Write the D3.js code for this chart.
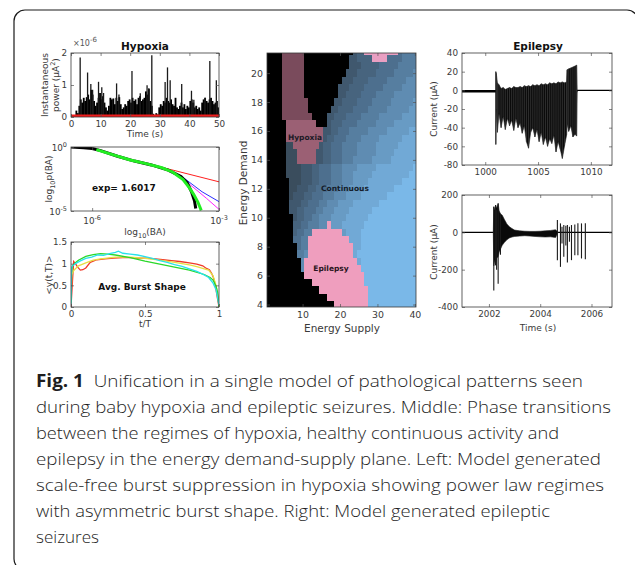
<!DOCTYPE html>
<html><head><meta charset="utf-8">
<script src="https://cdn.jsdelivr.net/npm/d3@7"></script>
<style>body{margin:0;background:#fff}svg{display:block}</style>
</head><body>
<svg id="c" width="635" height="565"></svg>
<script>
// ================= DATA =================
// Panel 1: Hypoxia instantaneous power (x1e-6), dense burst heights per 0.5 s bin
const powerBinWidth = 0.5;
const powerBurstHeights = [0,0,0.02,0.2,0.12,0.35,0.55,0.45,0.6,0.5,
  0.62,0.7,0.55,0.85,0.7,0.5,0.35,0.45,0.6,0.75,
  0.55,0.65,0.45,0.3,0.2,0.35,0.6,0.55,0.58,0.4,
  0.6,0.5,0.62,0.4,0.25,0.3,0.4,0.35,0.5,0.55,
  0.45,0.6,0.5,0.55,0.4,0.6,0.65,0.5,0.55,0.6,
  0.8,0.7,0.88,0.5,0.35,0.1,0.05,0.12,0.08,0.3,
  0.4,0.35,0.5,0.45,0.6,0.5,0.45,0.55,0.4,0.35,
  0.6,0.3,0.25,0.35,0.45,0.3,0.4,0.25,0.35,0.3,
  0.5,0.55,0.45,0.3,0.35,0.25,0.3,0.2,0.45,0.55,
  0.6,0.5,0.45,0.55,0.6,0.5,0.4,0.45,0.5,0.3];
const spikeTimes   = [3.1,5.6,6.7,7.3,9.3,10.4,11.0,15.4,16.2,20.6,23.4,25.7,26.3,27.3,31.8,32.6,33.5,37.4,40.7,41.5,45.3,46.9,49.1];
const spikeHeights = [1.86,1.39,1.03,0.85,1.10,0.93,0.75,1.05,0.70,1.44,0.74,0.99,0.90,1.93,1.09,1.55,1.15,1.03,0.82,0.54,0.60,1.75,1.15];
const powerXTicks = [0,10,20,30,40,50];
const powerYTicks = [0,1,2];

// Panel 2: log-log distribution (log10 values)
const blackLogX = [-6.5,-6.2,-6.0,-5.8,-5.4,-5.0,-4.6,-4.2,-3.9,-3.75,-3.65,-3.58,-3.55];
const blackLogY = [0.0,-0.05,-0.12,-0.28,-0.72,-1.1,-1.4,-1.8,-2.3,-2.8,-3.5,-4.2,-4.8];
const greenLogX = [-5.9,-5.5,-5.1,-4.7,-4.35,-4.1,-3.85,-3.7,-3.6,-3.5,-3.42];
const greenLogY = [-0.2,-0.62,-1.02,-1.32,-1.62,-1.95,-2.55,-3.2,-3.7,-4.3,-4.95];
const redLogX = [-4.6,-3.0];
const redLogY = [-1.38,-2.72];
const blueLogX = [-4.5,-4.2,-3.8,-3.4,-3.0];
const blueLogY = [-1.48,-1.78,-2.5,-3.5,-4.27];
const magentaLogX = [-4.4,-4.1,-3.7,-3.3,-3.0];
const magentaLogY = [-1.58,-1.92,-2.9,-4.0,-4.87];

// Panel 3: average burst shapes
const redShapeT = [0,0.01,0.018,0.03,0.045,0.063,0.08,0.1,0.13,0.175,0.23,0.29,0.35,0.4,0.45,0.51,0.57,0.62,0.68,0.735,0.8,0.85,0.89,0.915,0.935,0.95,0.96,0.97,0.98,0.99,1.0];
const redShapeV = [0,0.6,1.05,1.0,0.92,0.85,0.86,0.9,1.03,1.09,1.11,1.13,1.14,1.14,1.13,1.13,1.11,1.09,1.07,1.05,1.02,0.99,0.95,0.89,0.86,0.78,0.7,0.58,0.4,0.19,0];
const yellowShapeT = [0,0.005,0.02,0.05,0.1,0.15,0.2,0.3,0.4,0.45,0.5,0.6,0.7,0.75,0.8,0.85,0.9,0.93,0.96,0.98,0.995,1];
const yellowShapeV = [0.1,0.75,0.85,0.95,1.02,1.08,1.11,1.15,1.15,1.14,1.12,1.08,1.03,1.0,0.97,0.93,0.88,0.85,0.72,0.5,0.2,0.05];
const greenShapeT = [0,0.003,0.01,0.03,0.05,0.1,0.15,0.2,0.25,0.3,0.4,0.5,0.6,0.7,0.8,0.9,0.94,0.96,0.98,0.99,1];
const greenShapeV = [0.1,0.8,0.95,1.02,1.08,1.17,1.21,1.23,1.22,1.2,1.14,1.06,0.99,0.92,0.85,0.75,0.68,0.62,0.48,0.35,0];
const cyanShapeT = [0,0.004,0.01,0.03,0.06,0.1,0.14,0.18,0.22,0.26,0.3,0.32,0.35,0.4,0.45,0.5,0.55,0.6,0.65,0.7,0.75,0.8,0.85,0.9,0.93,0.96,0.98,1];
const cyanShapeV = [0.05,0.9,0.95,1.0,1.06,1.12,1.15,1.2,1.19,1.23,1.26,1.29,1.24,1.22,1.2,1.16,1.12,1.07,1.03,0.98,0.94,0.88,0.82,0.74,0.68,0.55,0.4,0.05];
const shapeXTicks = [0,0.5,1];
const shapeYTicks = [0,0.5,1,1.5];

// Panel 4: phase map (rows = energy demand, columns = energy supply 1..40)
// K black, h/H hypoxia, E/P epilepsy, digits = continuous (0 dark .. 9 light)
const demandRows = [21.5,21,20.5,20,19.5,19,18.5,18,17.5,17,16.5,16,15.5,15,14.5,14,13.5,13,12.5,12,11.5,11,10.5,10,9.5,9,8.5,8,7.5,7,6.5,6,5.5,5,4.5,4];
const supplyCols = [1,2,3,4,5,6,7,8,9,10,11,12,13,14,15,16,17,18,19,20,21,22,23,24,25,26,27,28,29,30,31,32,33,34,35,36,37,38,39,40];
const phaseRows = [
 "KKKK"+"hhhhhh"+"KKKKKKKKKKKKK"+"233"+"PPPPPPPPP"+"45555",
 "KKKK"+"hhhhhh"+"KKKKKKKKKKKK"+"223333"+"PPPP"+"44445555",
 "KKKK"+"hhhhhh"+"KKKKKKKKKKKK"+"222333334444455555",
 "KKKK"+"hhhhhh"+"KKKKKKKKKKK"+"2223333344444555556",
 "KKKK"+"hhhhhh"+"KKKKKKKKKK"+"22233334444455555666",
 "KKKK"+"hhhhhh"+"KKKKKKKKK"+"222333344444555556666",
 "KKKK"+"hhhhhh"+"KKKKKKKKK"+"223333444455555666666",
 "KKKK"+"hhhhhhh"+"KKKKKKK"+"2233334444555556666667",
 "KKKK"+"hhhhhhh"+"KKKKKK"+"22333344445555566666677",
 "KKKK"+"hhhhhhhh"+"KKKK"+"223334444555556666667777",
 "KKKKK"+"HHHHHHHH"+"KKK"+"233344445555566666777777",
 "KKKKK"+"HHHHHHHHHH"+"2233444555556666677777788",
 "KKKKK"+"HHHHHHHHHH"+"2334445555666667777778888",
 "KKKKK"+"11"+"HHHHHHH"+"23344455556666677777788888",
 "KKKKK"+"111"+"HHHHH"+"223344455556666677777888888",
 "KKKKK"+"111"+"HHHHH"+"223344455566666777778888888",
 "KKKKK"+"11112223344455566667777788888888889",
 "KKKKK"+"11112223344455566677777888888888899",
 "KKKKKK"+"1112223344455566677778888888889999",
 "KKKKKK"+"1122233444555666777788888888999999",
 "KKKKKK"+"1222334445556667777888888899999999",
 "KKKKKK"+"2223344455666777788888889999999999",
 "KKKKKK"+"2233444556667777888888999999999999",
 "KKKKKKK"+"233445566677778888889999999999999",
 "KKKKKKK"+"334455566"+"E"+"77788888899999999999999",
 "KKKKKKK"+"34455"+"EEEEEEEE"+"78888999999999999999",
 "KKKKKKK"+"4455"+"EEEEEEEEEEE"+"888999999999999999",
 "KKKKKKKK"+"455"+"EEEEEEEEEEEE"+"88999999999999999",
 "KKKKKKKK"+"556"+"EEEEEEEEEEEE"+"89999999999999999",
 "KKKKKKKKK"+"6"+"EEEEEEEEEEEEEE"+"8999999999999999",
 "KKKKKKKKK"+"6"+"EEEEEEEEEEEEEEE"+"999999999999999",
 "KKKKKKKKKK"+"EEEEEEEEEEEEEEEE"+"99999999999999",
 "KKKKKKKKKKKK"+"EEEEEEEEEEEEEE"+"99999999999999",
 "KKKKKKKKKKKKKK"+"EEEEEEEEEEEEE"+"9999999999999",
 "KKKKKKKKKKKKKKKK"+"EEEEEEEEEEE"+"9999999999999",
 "KKKKKKKKKKKKKKKKKK"+"EEEEEEEEE"+"9999999999999"
];
const supplyTicks = [10,20,30,40];
const demandTicks = [4,6,8,10,12,14,16,18,20];

// Panel 5: epileptic seizure current (uA)
const seizureT = [1001.0,1001.05,1001.15,1001.3,1001.5,1001.7,1001.9,1002.1,1002.3,1002.5,1002.7,1002.9,1003.1,1003.3,1003.5,1003.7,1003.9,1004.1,1004.3,1004.5,1004.7,1004.9,1005.1,1005.3,1005.5,1005.7,1005.9,1006.1,1006.3,1006.5,1006.7,1006.9,1007.1,1007.3,1007.5,1007.7,1007.75,1007.9,1008.1,1008.3,1008.5,1008.65,1008.7];
const seizureUpper = [20,18,8,6,2,3,1,2,3,2,4,3,3,4,3,5,4,5,4,6,5,6,5,7,6,7,6,8,7,8,7,9,8,9,8,9,22,23,24,25,26,27,0];
const seizureLower = [-58,-20,-45,-25,-40,-28,-42,-30,-38,-32,-43,-30,-40,-35,-46,-38,-55,-62,-45,-40,-50,-42,-55,-45,-58,-50,-60,-52,-57,-48,-66,-55,-63,-73,-60,-48,-36,-44,-38,-50,-47,-49,-2];
const preT = [997.8,1001.0];  const preV = [-1,-1];
const postT = [1008.7,1012.2]; const postV = [0,0];
const currentYTicks1 = [-80,-60,-40,-20,0,20,40];
const timeTicks1 = [1000,1005,1010];

// Panel 6: second seizure current (uA)
const burstT = [2002.17,2002.19,2002.22,2002.26,2002.3,2002.36,2002.4,2002.45,2002.52,2002.6,2002.7,2002.8,2002.9,2003.0,2003.2,2003.4,2003.6,2003.8,2004.0,2004.2,2004.4,2004.6,2004.7];
const burstUpper = [0,137,120,146,130,155,115,100,92,70,45,30,20,12,8,6,5,5,6,8,10,14,0];
const burstLower = [0,-180,-150,-176,-140,-130,-105,-90,-69,-55,-40,-30,-25,-22,-20,-18,-20,-22,-24,-25,-24,-28,0];
const bigSpikeT = [2002.19,2002.26,2002.3,2002.36,2002.45,2004.67,2004.79,2004.85,2004.92,2005.0,2005.06,2005.14,2005.22,2005.35,2005.47,2005.61,2005.76];
const bigSpikeTop = [137,146,120,155,100,66,48,30,39,35,39,30,39,42,48,48,48];
const bigSpikeBot = [-311,-176,-200,-275,-120,-149,-185,-60,-131,-70,-162,-50,-149,-123,-123,-140,-144];
const currentYTicks2 = [-400,-200,0,200];
const timeTicks2 = [2002,2004,2006];

// Caption
const captionLines = [
 "Unification in a single model of pathological patterns seen",
 "during baby hypoxia and epileptic seizures. Middle: Phase transitions",
 "between the regimes of hypoxia, healthy continuous activity and",
 "epilepsy in the energy demand-supply plane. Left: Model generated",
 "scale-free burst suppression in hypoxia showing power law regimes",
 "with asymmetric burst shape. Right: Model generated epileptic",
 "seizures"];
const captionEnds = [583,611,559,601,604,550,99];

// ================= DRAWING =================
const svg = d3.select('#c');
const FONT = "'DejaVu Sans', sans-serif";
const TXT = '#3a3a3a';
const defs = svg.append('defs');

svg.append('rect').attr('x',14).attr('y',10).attr('width',624).attr('height',560).attr('rx',11)
  .attr('fill','none').attr('stroke','#1a1a1a').attr('stroke-width',1.2);

let clipId = 0;
function panel(x, y, w, h) {
  const g = svg.append('g').attr('transform', `translate(${x},${y})`);
  const id = 'clip' + (clipId++);
  defs.append('clipPath').attr('id', id).append('rect').attr('width', w).attr('height', h);
  const plot = g.append('g').attr('clip-path', `url(#${id})`);
  return {g, plot, w, h};
}
const plain = d => String(d);
function axes(p, xs, ys, xt, yt, xf, yf, fs) {
  const {g, w, h} = p;
  const a = g.append('g');
  a.append('g').attr('transform', `translate(0,${h})`)
    .call(d3.axisBottom(xs).tickValues(xt).tickSize(-3).tickPadding(4).tickFormat(xf));
  a.append('g').call(d3.axisLeft(ys).tickValues(yt).tickSize(-3).tickPadding(4).tickFormat(yf));
  a.append('g').call(d3.axisTop(xs).tickValues(xt).tickSize(-3).tickFormat(''));
  a.append('g').attr('transform', `translate(${w},0)`).call(d3.axisRight(ys).tickValues(yt).tickSize(-3).tickFormat(''));
  a.selectAll('.domain').remove();
  a.selectAll('.tick line').attr('stroke', '#555').attr('stroke-width', 0.7);
  a.selectAll('.tick text').attr('fill', TXT).style('font-family', FONT).style('font-size', (fs || 8.8) + 'px');
  a.selectAll('.tick text').filter(function(){ return this.textContent === ''; }).remove();
  g.append('rect').attr('width', w).attr('height', h).attr('fill', 'none')
    .attr('stroke', '#3a3a3a').attr('stroke-width', 0.8);
  return a;
}
function label(x, y, parts, opts = {}) {
  const t = svg.append('text').attr('x', x).attr('y', y)
    .attr('text-anchor', opts.anchor || 'middle')
    .style('font-family', FONT).style('font-size', (opts.size || 9) + 'px')
    .attr('fill', opts.fill || TXT).style('font-weight', opts.bold ? 'bold' : 'normal');
  if (opts.rotate) t.attr('transform', `rotate(-90,${x},${y})`);
  let off = 0;
  parts.forEach(pt => {
    if (typeof pt === 'string') {
      const s = t.append('tspan').text(pt);
      if (off) { s.attr('dy', -off); off = 0; }
    } else {
      t.append('tspan').attr('dy', pt.dy - off).style('font-size', pt.size + 'px').text(pt.t);
      off = pt.dy;
    }
  });
  return t;
}

// ---------- Panel 1 ----------
{
  const p = panel(71, 53, 148, 64);
  const xs = d3.scaleLinear().domain([0, 50]).range([0, p.w]);
  const ys = d3.scaleLinear().domain([0, 2]).range([p.h, 0]);
  p.plot.selectAll('rect.b').data(powerBurstHeights).join('rect')
    .attr('x', (d, i) => xs(i * powerBinWidth))
    .attr('width', xs(powerBinWidth) - xs(0) + 0.35)
    .attr('y', d => ys(d)).attr('height', d => ys(0) - ys(d)).attr('fill', '#000');
  p.plot.selectAll('line.s').data(spikeTimes).join('line')
    .attr('x1', d => xs(d)).attr('x2', d => xs(d))
    .attr('y1', ys(0)).attr('y2', (d, i) => ys(spikeHeights[i]))
    .attr('stroke', '#1a1a1a').attr('stroke-width', 1.3);
  p.plot.append('line').attr('x1', 0).attr('x2', p.w).attr('y1', ys(0) - 1).attr('y2', ys(0) - 1)
    .attr('stroke', '#ee1c1c').attr('stroke-width', 3);
  axes(p, xs, ys, powerXTicks, powerYTicks, plain, plain);
  label(145, 50, ['Hypoxia'], {bold: true, size: 10.5, fill: '#111'});
  label(73, 46, ['\u00d710', {t: '-6', dy: -4, size: 7}], {anchor: 'start', size: 8, fill: '#555'});
  label(48, 85, ['Instantaneous'], {rotate: true, size: 9});
  label(59, 85, ['power (\u03bcA', {t: '2', dy: -4, size: 6.5}, ')'], {rotate: true, size: 9});
  label(145, 137, ['Time (s)'], {size: 9});
}

// ---------- Panel 2 ----------
{
  const p = panel(71, 147, 148, 64);
  const xs = d3.scaleLog().domain([Math.pow(10, -6.5), 1e-3]).range([0, p.w]);
  const ys = d3.scaleLog().domain([1e-5, 1]).range([p.h, 0]);
  const line = d3.line().x(d => xs(Math.pow(10, d[0]))).y(d => ys(Math.pow(10, d[1])));
  const ser = [
    [redLogX, redLogY, '#ff2020', 1],
    [blueLogX, blueLogY, '#2b2bff', 1],
    [magentaLogX, magentaLogY, '#ff22ff', 1],
    [blackLogX, blackLogY, '#000', 3],
    [greenLogX, greenLogY, '#22ee22', 3]];
  ser.forEach(([X, Y, c, w]) => {
    p.plot.append('path').attr('d', line(X.map((x, i) => [x, Y[i]])))
      .attr('fill', 'none').attr('stroke', c).attr('stroke-width', w);
  });
  axes(p, xs, ys, [1e-6, 1e-3], [1e-5, 1], () => '', () => '');
  label(67, 151, ['10', {t: '0', dy: -4, size: 6.5}], {anchor: 'end', size: 8.8});
  label(67, 215, ['10', {t: '-5', dy: -4, size: 6.5}], {anchor: 'end', size: 8.8});
  label(71 + xs(1e-6), 224, ['10', {t: '-6', dy: -4, size: 6.5}], {size: 8.8});
  label(71 + xs(1e-3), 224, ['10', {t: '-3', dy: -4, size: 6.5}], {size: 8.8});
  label(145, 235, ['log', {t: '10', dy: 3, size: 6.5}, '(BA)'], {size: 9});
  label(52, 179, ['log', {t: '10', dy: 3, size: 6.5}, 'p(BA)'], {rotate: true, size: 9});
  label(92, 191, ['exp= 1.6017'], {anchor: 'start', bold: true, size: 9, fill: '#111'});
}

// ---------- Panel 3 ----------
{
  const p = panel(71, 242, 148, 65);
  const xs = d3.scaleLinear().domain([0, 1]).range([0, p.w]);
  const ys = d3.scaleLinear().domain([0, 1.5]).range([p.h, 0]);
  const line = d3.line().x(d => xs(d[0])).y(d => ys(d[1]));
  [[redShapeT, redShapeV, '#f03a2a'], [yellowShapeT, yellowShapeV, '#e6e042'],
   [greenShapeT, greenShapeV, '#2ad82a'], [cyanShapeT, cyanShapeV, '#28e2ea']].forEach(([T, V, c]) => {
    p.plot.append('path').attr('d', line(T.map((t, i) => [t, V[i]])))
      .attr('fill', 'none').attr('stroke', c).attr('stroke-width', 1.3);
  });
  axes(p, xs, ys, shapeXTicks, shapeYTicks, plain, plain);
  label(145, 327, ['t/T'], {size: 9});
  label(52, 275, ['<y(t,T)>'], {rotate: true, size: 9});
  label(142, 290, ['Avg. Burst Shape'], {bold: true, size: 9, fill: '#111'});
}

// ---------- Panel 4: phase map ----------
{
  const p = panel(267, 53, 149, 254);
  const xs = d3.scaleLinear().domain([0.5, 40.3]).range([0, p.w]);
  const ys = d3.scaleLinear().domain([3.83, 21.39]).range([p.h, 0]);
  const blue = d3.scaleLinear().domain([0, 4, 9]).range(['#33414d', '#4d6f8e', '#7ab8e8']);
  const cat = {K: '#000000', h: '#7a4b5c', H: '#9b6074', E: '#ef9ebe', P: '#e99fc2'};
  const cells = [];
  phaseRows.forEach((row, r) => {
    supplyCols.forEach((s, c) => {
      const ch = row[c] || '9';
      cells.push({d: demandRows[r], s, color: cat[ch] || blue(+ch)});
    });
  });
  p.plot.selectAll('rect.c').data(cells).join('rect')
    .attr('x', d => xs(d.s - 0.5)).attr('width', d => xs(d.s + 0.5) - xs(d.s - 0.5) + 0.5)
    .attr('y', d => ys(d.d + 0.25)).attr('height', d => ys(d.d - 0.25) - ys(d.d + 0.25) + 0.5)
    .attr('fill', d => d.color).attr('shape-rendering', 'crispEdges');
  axes(p, xs, ys, supplyTicks, demandTicks, plain, plain, 9.4);
  label(305, 140, ['Hypoxia'], {bold: true, size: 7.5, fill: '#1d1a26'});
  label(345, 191, ['Continuous'], {bold: true, size: 7.5, fill: '#141c2a'});
  label(331, 271, ['Epilepsy'], {bold: true, size: 7.5, fill: '#2a1420'});
  label(342, 332, ['Energy Supply'], {size: 10.5});
  label(247, 183, ['Energy Demand'], {rotate: true, size: 10.5});
}

// ---------- Panel 5 ----------
{
  const p = panel(462, 53, 150, 112);
  const xs = d3.scaleLinear().domain([997.8, 1012]).range([0, p.w]);
  const ys = d3.scaleLinear().domain([-80, 40]).range([p.h, 0]);
  const area = d3.area().x(d => xs(d.t)).y0(d => ys(d.lo)).y1(d => ys(d.hi));
  p.plot.append('path').attr('d', area(seizureT.map((t, i) => ({t, lo: seizureLower[i], hi: seizureUpper[i]}))))
    .attr('fill', '#0a0a0a').attr('stroke', '#222').attr('stroke-width', 0.6);
  p.plot.selectAll('line.sz').data(seizureT).join('line')
    .attr('x1', d => xs(d)).attr('x2', d => xs(d))
    .attr('y1', (d, i) => ys(seizureUpper[i])).attr('y2', (d, i) => ys(seizureLower[i]))
    .attr('stroke', '#333').attr('stroke-width', 0.9);
  const ln = d3.line().x(d => xs(d[0])).y(d => ys(d[1]));
  p.plot.append('path').attr('d', ln(preT.map((t, i) => [t, preV[i]]))).attr('stroke', '#000').attr('stroke-width', 2.4).attr('fill', 'none');
  p.plot.append('path').attr('d', ln(postT.map((t, i) => [t, postV[i]]))).attr('stroke', '#000').attr('stroke-width', 1.3).attr('fill', 'none');
  axes(p, xs, ys, timeTicks1, currentYTicks1, plain, plain);
  label(538, 50, ['Epilepsy'], {bold: true, size: 10.5, fill: '#111'});
  label(437, 109, ['Current (\u03bcA)'], {rotate: true, size: 9});
}

// ---------- Panel 6 ----------
{
  const p = panel(462, 195, 150, 112);
  const xs = d3.scaleLinear().domain([2000.95, 2006.8]).range([0, p.w]);
  const ys = d3.scaleLinear().domain([-400, 200]).range([p.h, 0]);
  p.plot.append('line').attr('x1', 0).attr('x2', p.w).attr('y1', ys(0)).attr('y2', ys(0))
    .attr('stroke', '#000').attr('stroke-width', 1.2);
  const area = d3.area().x(d => xs(d.t)).y0(d => ys(d.lo)).y1(d => ys(d.hi));
  p.plot.append('path').attr('d', area(burstT.map((t, i) => ({t, lo: burstLower[i], hi: burstUpper[i]}))))
    .attr('fill', '#0a0a0a').attr('stroke', '#222').attr('stroke-width', 0.6);
  p.plot.selectAll('line.sp').data(bigSpikeT).join('line')
    .attr('x1', d => xs(d)).attr('x2', d => xs(d))
    .attr('y1', (d, i) => ys(bigSpikeTop[i])).attr('y2', (d, i) => ys(bigSpikeBot[i]))
    .attr('stroke', '#1a1a1a').attr('stroke-width', 1.1);
  axes(p, xs, ys, timeTicks2, currentYTicks2, plain, plain);
  label(437, 252, ['Current (\u03bcA)'], {rotate: true, size: 9});
  label(538, 331, ['Time (s)'], {size: 9});
}

// ---------- Caption ----------
captionLines.forEach((txt, i) => {
  const y = 387 + i * 26;
  const t = svg.append('text').attr('x', 36).attr('y', y)
    .style('font-family', "'Open Sans', 'Noto Sans', sans-serif").style('font-size', '17px')
    .style('font-weight', '300')
    .attr('fill', '#1e1e1e').attr('textLength', captionEnds[i] - 36).attr('lengthAdjust', 'spacingAndGlyphs');
  if (i === 0) {
    t.append('tspan').style('font-weight', 'bold').text('Fig. 1');
    t.append('tspan').text('\u00a0\u00a0' + txt);
  } else t.text(txt);
});
</script>
</body></html>
